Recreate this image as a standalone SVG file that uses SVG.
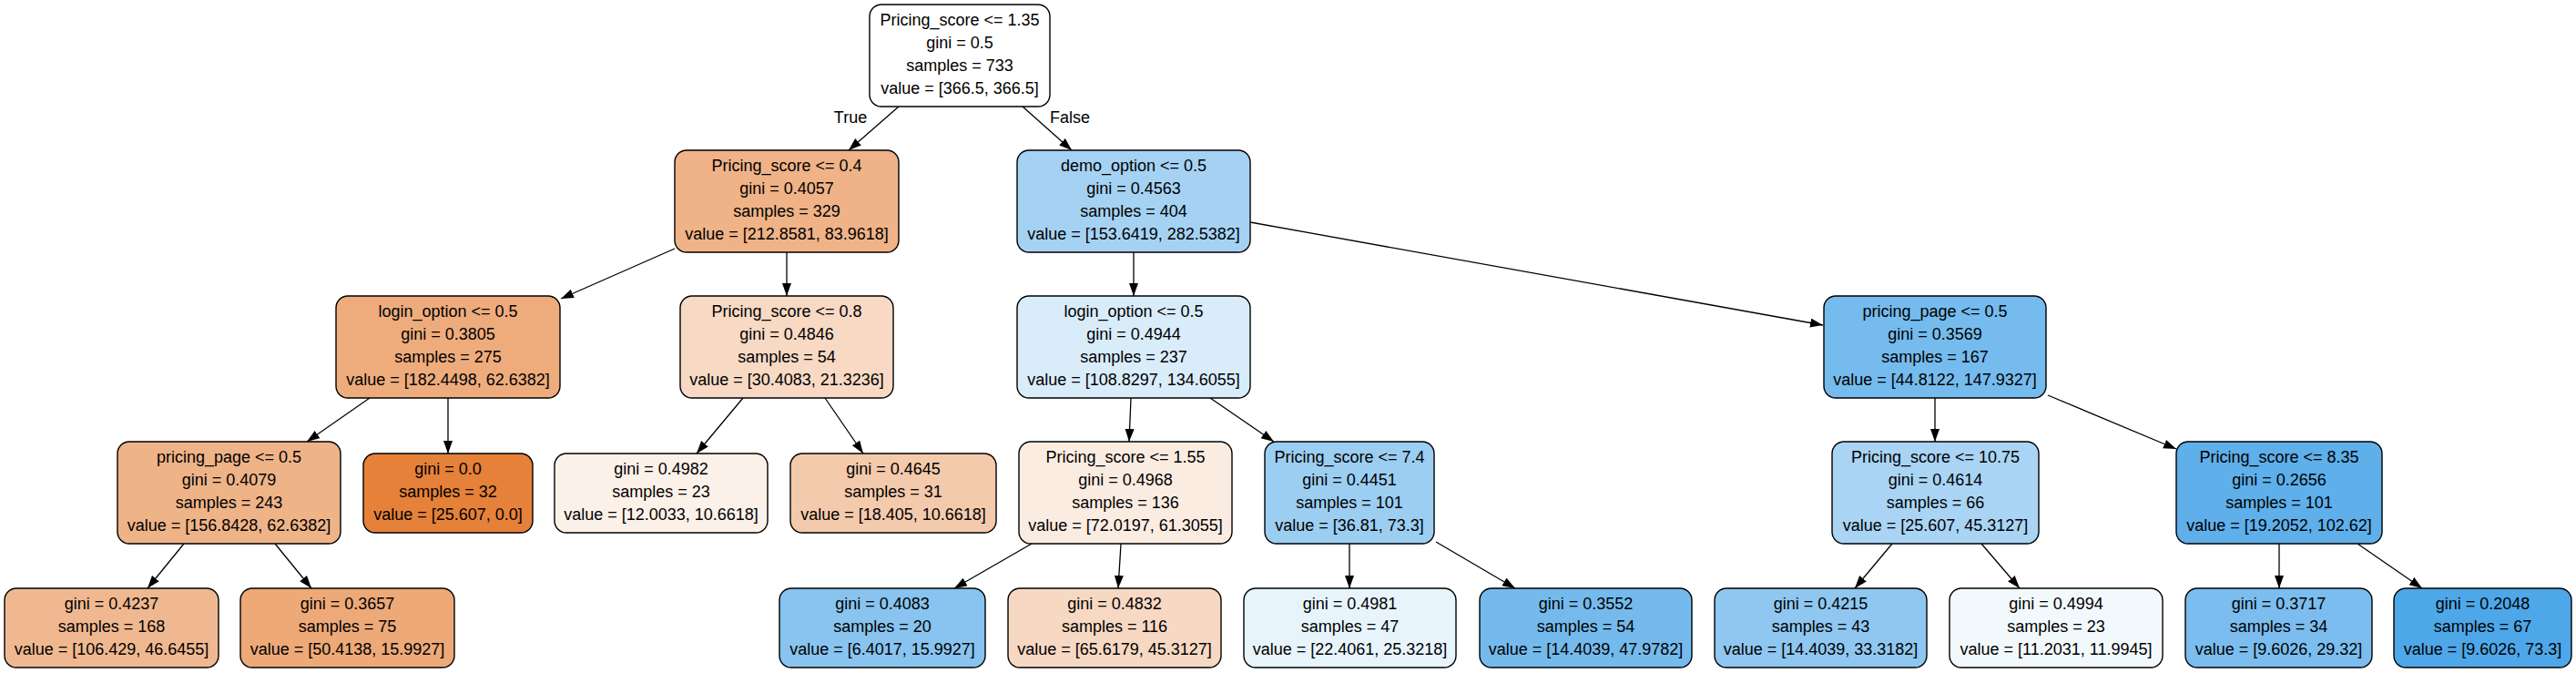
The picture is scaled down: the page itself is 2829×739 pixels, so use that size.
<svg xmlns="http://www.w3.org/2000/svg" width="2829" height="739" viewBox="0 0 2829 739">
<style>
.n rect{stroke:#000;stroke-width:1.4}
text{font-family:"Liberation Sans",Arial,Helvetica,sans-serif;font-size:18px;fill:#000;text-anchor:middle}
.e line{stroke:#000;stroke-width:1.3;marker-end:url(#ah)}
</style>
<defs>
<marker id="ah" markerUnits="userSpaceOnUse" markerWidth="15" markerHeight="11" refX="14" refY="5" orient="auto">
<path d="M0,0 L14,5 L0,10 z" fill="#000"/>
</marker>
</defs>
<rect width="2829" height="739" fill="#fff"/>
<g id="connectors" class="e">
<line x1="987" y1="117" x2="932" y2="165"/>
<line x1="1123" y1="117" x2="1177" y2="165"/>
<line x1="741" y1="273" x2="616" y2="328"/>
<line x1="864" y1="277" x2="864" y2="325"/>
<line x1="406" y1="437" x2="337" y2="485"/>
<line x1="492" y1="437" x2="492" y2="498"/>
<line x1="202" y1="597" x2="162" y2="646"/>
<line x1="302" y1="597" x2="342" y2="646"/>
<line x1="816" y1="437" x2="765" y2="498"/>
<line x1="906" y1="437" x2="948" y2="498"/>
<line x1="1245" y1="277" x2="1245" y2="325"/>
<line x1="1373" y1="244" x2="2002" y2="357"/>
<line x1="1242" y1="437" x2="1240" y2="485"/>
<line x1="1329" y1="437" x2="1399" y2="485"/>
<line x1="1133" y1="597" x2="1048" y2="646"/>
<line x1="1231" y1="597" x2="1228" y2="646"/>
<line x1="1482" y1="597" x2="1482" y2="646"/>
<line x1="1577" y1="595" x2="1664" y2="646"/>
<line x1="2125" y1="437" x2="2125" y2="485"/>
<line x1="2249" y1="434" x2="2390" y2="493"/>
<line x1="2078" y1="597" x2="2037" y2="646"/>
<line x1="2176" y1="597" x2="2218" y2="646"/>
<line x1="2503" y1="597" x2="2503" y2="646"/>
<line x1="2589" y1="597" x2="2660" y2="646"/>
</g>
<g id="edge-labels">
<text x="934" y="135">True</text>
<text x="1175" y="135">False</text>
</g>
<g id="node0" class="n"><rect x="955" y="5" width="198" height="112" rx="13" fill="#ffffff"/>
<text x="1054" y="28">Pricing_score &lt;= 1.35</text><text x="1054" y="53">gini = 0.5</text><text x="1054" y="78">samples = 733</text><text x="1054" y="103">value = [366.5, 366.5]</text></g>
<g id="node1" class="n"><rect x="741" y="165" width="246" height="112" rx="13" fill="#efb387"/>
<text x="864" y="188">Pricing_score &lt;= 0.4</text><text x="864" y="213">gini = 0.4057</text><text x="864" y="238">samples = 329</text><text x="864" y="263">value = [212.8581, 83.9618]</text></g>
<g id="node2" class="n"><rect x="369" y="325" width="246" height="112" rx="13" fill="#eeac7d"/>
<text x="492" y="348">login_option &lt;= 0.5</text><text x="492" y="373">gini = 0.3805</text><text x="492" y="398">samples = 275</text><text x="492" y="423">value = [182.4498, 62.6382]</text></g>
<g id="node3" class="n"><rect x="129" y="485" width="245" height="112" rx="13" fill="#efb388"/>
<text x="251.5" y="508">pricing_page &lt;= 0.5</text><text x="251.5" y="533">gini = 0.4079</text><text x="251.5" y="558">samples = 243</text><text x="251.5" y="583">value = [156.8428, 62.6382]</text></g>
<g id="node4" class="n"><rect x="5" y="646" width="235" height="87" rx="13" fill="#f0b890"/>
<text x="122.5" y="669">gini = 0.4237</text><text x="122.5" y="694">samples = 168</text><text x="122.5" y="719">value = [106.429, 46.6455]</text></g>
<g id="node5" class="n"><rect x="264" y="646" width="235" height="87" rx="13" fill="#eda978"/>
<text x="381.5" y="669">gini = 0.3657</text><text x="381.5" y="694">samples = 75</text><text x="381.5" y="719">value = [50.4138, 15.9927]</text></g>
<g id="node6" class="n"><rect x="399" y="498" width="186" height="87" rx="13" fill="#e58139"/>
<text x="492" y="521">gini = 0.0</text><text x="492" y="546">samples = 32</text><text x="492" y="571">value = [25.607, 0.0]</text></g>
<g id="node7" class="n"><rect x="747" y="325" width="234" height="112" rx="13" fill="#f7d9c4"/>
<text x="864" y="348">Pricing_score &lt;= 0.8</text><text x="864" y="373">gini = 0.4846</text><text x="864" y="398">samples = 54</text><text x="864" y="423">value = [30.4083, 21.3236]</text></g>
<g id="node8" class="n"><rect x="609" y="498" width="234" height="87" rx="13" fill="#fcf1e9"/>
<text x="726" y="521">gini = 0.4982</text><text x="726" y="546">samples = 23</text><text x="726" y="571">value = [12.0033, 10.6618]</text></g>
<g id="node9" class="n"><rect x="868" y="498" width="226" height="87" rx="13" fill="#f4caac"/>
<text x="981" y="521">gini = 0.4645</text><text x="981" y="546">samples = 31</text><text x="981" y="571">value = [18.405, 10.6618]</text></g>
<g id="node10" class="n"><rect x="1117" y="165" width="256" height="112" rx="13" fill="#a5d2f3"/>
<text x="1245" y="188">demo_option &lt;= 0.5</text><text x="1245" y="213">gini = 0.4563</text><text x="1245" y="238">samples = 404</text><text x="1245" y="263">value = [153.6419, 282.5382]</text></g>
<g id="node11" class="n"><rect x="1117" y="325" width="256" height="112" rx="13" fill="#d9ecfa"/>
<text x="1245" y="348">login_option &lt;= 0.5</text><text x="1245" y="373">gini = 0.4944</text><text x="1245" y="398">samples = 237</text><text x="1245" y="423">value = [108.8297, 134.6055]</text></g>
<g id="node12" class="n"><rect x="1119" y="485" width="234" height="112" rx="13" fill="#fbece2"/>
<text x="1236" y="508">Pricing_score &lt;= 1.55</text><text x="1236" y="533">gini = 0.4968</text><text x="1236" y="558">samples = 136</text><text x="1236" y="583">value = [72.0197, 61.3055]</text></g>
<g id="node13" class="n"><rect x="856" y="646" width="226" height="87" rx="13" fill="#88c4ef"/>
<text x="969" y="669">gini = 0.4083</text><text x="969" y="694">samples = 20</text><text x="969" y="719">value = [6.4017, 15.9927]</text></g>
<g id="node14" class="n"><rect x="1107" y="646" width="234" height="87" rx="13" fill="#f7d8c2"/>
<text x="1224" y="669">gini = 0.4832</text><text x="1224" y="694">samples = 116</text><text x="1224" y="719">value = [65.6179, 45.3127]</text></g>
<g id="node15" class="n"><rect x="1389" y="485" width="186" height="112" rx="13" fill="#9ccef2"/>
<text x="1482" y="508">Pricing_score &lt;= 7.4</text><text x="1482" y="533">gini = 0.4451</text><text x="1482" y="558">samples = 101</text><text x="1482" y="583">value = [36.81, 73.3]</text></g>
<g id="node16" class="n"><rect x="1366" y="646" width="233" height="87" rx="13" fill="#e8f4fc"/>
<text x="1482.5" y="669">gini = 0.4981</text><text x="1482.5" y="694">samples = 47</text><text x="1482.5" y="719">value = [22.4061, 25.3218]</text></g>
<g id="node17" class="n"><rect x="1625" y="646" width="233" height="87" rx="13" fill="#74baed"/>
<text x="1741.5" y="669">gini = 0.3552</text><text x="1741.5" y="694">samples = 54</text><text x="1741.5" y="719">value = [14.4039, 47.9782]</text></g>
<g id="node18" class="n"><rect x="2003" y="325" width="244" height="112" rx="13" fill="#75bbed"/>
<text x="2125" y="348">pricing_page &lt;= 0.5</text><text x="2125" y="373">gini = 0.3569</text><text x="2125" y="398">samples = 167</text><text x="2125" y="423">value = [44.8122, 147.9327]</text></g>
<g id="node19" class="n"><rect x="2012" y="485" width="227" height="112" rx="13" fill="#a9d4f4"/>
<text x="2125.5" y="508">Pricing_score &lt;= 10.75</text><text x="2125.5" y="533">gini = 0.4614</text><text x="2125.5" y="558">samples = 66</text><text x="2125.5" y="583">value = [25.607, 45.3127]</text></g>
<g id="node20" class="n"><rect x="1883" y="646" width="233" height="87" rx="13" fill="#8fc7f0"/>
<text x="1999.5" y="669">gini = 0.4215</text><text x="1999.5" y="694">samples = 43</text><text x="1999.5" y="719">value = [14.4039, 33.3182]</text></g>
<g id="node21" class="n"><rect x="2141" y="646" width="234" height="87" rx="13" fill="#f2f9fd"/>
<text x="2258" y="669">gini = 0.4994</text><text x="2258" y="694">samples = 23</text><text x="2258" y="719">value = [11.2031, 11.9945]</text></g>
<g id="node22" class="n"><rect x="2390" y="485" width="226" height="112" rx="13" fill="#5eafea"/>
<text x="2503" y="508">Pricing_score &lt;= 8.35</text><text x="2503" y="533">gini = 0.2656</text><text x="2503" y="558">samples = 101</text><text x="2503" y="583">value = [19.2052, 102.62]</text></g>
<g id="node23" class="n"><rect x="2400" y="646" width="205" height="87" rx="13" fill="#7abdee"/>
<text x="2502.5" y="669">gini = 0.3717</text><text x="2502.5" y="694">samples = 34</text><text x="2502.5" y="719">value = [9.6026, 29.32]</text></g>
<g id="node24" class="n"><rect x="2629" y="646" width="195" height="87" rx="13" fill="#4da7e8"/>
<text x="2726.5" y="669">gini = 0.2048</text><text x="2726.5" y="694">samples = 67</text><text x="2726.5" y="719">value = [9.6026, 73.3]</text></g>
</svg>
